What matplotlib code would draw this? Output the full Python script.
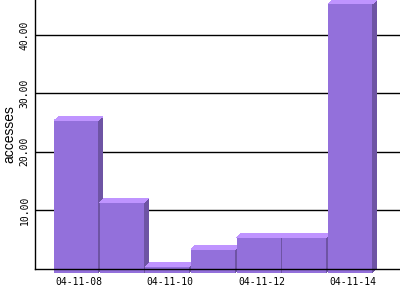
import matplotlib
matplotlib.use("Agg")
import matplotlib.pyplot as plt
from matplotlib.patches import Polygon

# daily access counts
days = ["04-11-08", "04-11-09", "04-11-10", "04-11-11", "04-11-12", "04-11-13", "04-11-14"]
accesses = [26, 12, 1, 4, 6, 6, 46]
y_ticks = [10, 20, 30, 40]

FRONT = "#9370db"
TOP = "#bf94ff"
SIDE = "#6e54a4"

fig = plt.figure(figsize=(4, 3), dpi=100)
ax = fig.add_axes([35 / 400, 31.5 / 300, 365 / 400, 268.5 / 300])

ymax = 46.0
ax.set_ylim(0, ymax)
ax.set_xlim(-0.898, 7.094)

# 3D offsets in data units (pixel -> data)
px_x = 7.992 / 365
px_y = ymax / 268.5
dx = 4.5 * px_x
dy = 4.0 * px_y
w = 0.963

for i, v in enumerate(accesses):
    xl = i - w / 2
    xr = i + w / 2
    faces = [
        ([(xr, -dy), (xr + dx, 0), (xr + dx, v), (xr, v - dy)], SIDE),
        ([(xl, -dy), (xr, -dy), (xr, v - dy), (xl, v - dy)], FRONT),
        ([(xl, v - dy), (xr, v - dy), (xr + dx, v), (xl + dx, v)], TOP),
    ]
    for pts, col in faces:
        ax.add_patch(Polygon(pts, closed=True, facecolor=col, edgecolor="none",
                             antialiased=False, clip_on=False, zorder=2))

for t in y_ticks:
    ax.axhline(t, color="black", linewidth=1.0, zorder=1)

for s in ["top", "right"]:
    ax.spines[s].set_visible(False)
ax.spines["left"].set_linewidth(1.0)
ax.spines["bottom"].set_linewidth(1.0)
ax.spines["bottom"].set_zorder(3)

ax.set_yticks(y_ticks)
ax.set_yticklabels([f"{t:.2f}" for t in y_ticks], rotation=90, va="center",
                   family="DejaVu Sans Mono", fontsize=7)
ax.tick_params(axis="y", length=0, pad=4)

xt = list(range(0, len(days), 2))
ax.set_xticks([i + 0.06 for i in xt])
ax.set_xticklabels([days[i] for i in xt], family="DejaVu Sans Mono", fontsize=7)
ax.tick_params(axis="x", length=0, pad=6)

fig.text(9 / 400, 1 - 134 / 300, "accesses", rotation=90, ha="center", va="center",
         family="Liberation Sans", fontsize=10)

fig.savefig("out.png", dpi=100)
